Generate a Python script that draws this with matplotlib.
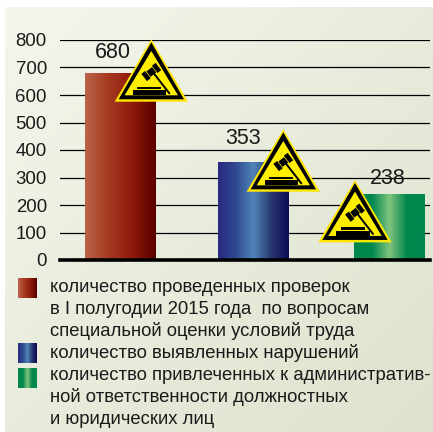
import numpy as np
import matplotlib
matplotlib.use("Agg")
import matplotlib.pyplot as plt
from matplotlib.colors import LinearSegmentedColormap
from matplotlib.patches import Polygon, Rectangle

W, H = 433, 432

values = [680, 353, 238]
bar_centers = [120.5, 253.5, 389.5]
bar_width = 71
y_ticks = [0, 100, 200, 300, 400, 500, 600, 700, 800]

# gradient stops, left to right
red_stops = ["#b9644a", "#a5391f", "#8f1a0c", "#5a0000"]
blue_stops = ["#2a2a82", "#2f4a90", "#4f86b8", "#28386f", "#0c0a55"]
green_stops = ["#00874e", "#00874e", "#80c47e", "#00874e", "#00874e"]
all_stops = [red_stops, blue_stops, green_stops]

legend_lines = [
    "количество проведенных проверок",
    "в I полугодии 2015 года  по вопросам",
    "специальной оценки условий труда",
    "количество выявленных нарушений",
    "количество привлеченных к административ-",
    "ной ответственности должностных",
    "и юридических лиц",
]
legend_swatches = [(18, 278), (18, 343), (18, 368)]

# where things sit in pixels
label_pos = [(113, 53), (243, 138), (388, 178)]
# icon apex relative to top right corner of its bar
icon_offsets = [(-4.7, -33.7), (-5.7, -33.6), (-70, -14.6)]

plt.rcParams["font.family"] = ["Liberation Sans", "DejaVu Sans"]

fig = plt.figure(figsize=(W / 100, H / 100), dpi=100, facecolor="white")


def pixel_axes():
    a = fig.add_axes([0, 0, 1, 1])
    a.patch.set_alpha(0)
    a.axis("off")
    return a


def reset_pixels(a):
    a.set_xlim(0, W)
    a.set_ylim(H, 0)


# page background
bg = pixel_axes()
xx, yy = np.meshgrid(np.linspace(0, 1, 200), np.linspace(0, 1, 200))
page_cmap = LinearSegmentedColormap.from_list("page", ["#f4f6ec", "#e8ecdc", "#dde3cd"])
bg.imshow((xx + yy) / 2, cmap=page_cmap, extent=(5, W, H, 7), aspect="auto", vmin=0, vmax=1)
reset_pixels(bg)

# chart
ax = fig.add_axes([60 / W, 1 - 260 / H, 370 / W, 220 / H])
ax.patch.set_alpha(0)
for s in ax.spines.values():
    s.set_visible(False)
ax.set_xticks([])
ax.set_yticks(y_ticks)
ax.tick_params(axis="y", length=0, pad=9.4, labelsize=13.4, labelcolor="#1a1a1a")
ax.grid(axis="y", color="black", lw=0.9, zorder=0)
ax.set_axisbelow(True)

bars = ax.bar(bar_centers, values, width=bar_width, color="none", zorder=2)
for rect, stops in zip(bars, all_stops):
    cm = LinearSegmentedColormap.from_list("bar", stops)
    x0, w = rect.get_x(), rect.get_width()
    ax.imshow(np.linspace(0, 1, 128)[None, :], cmap=cm, aspect="auto", zorder=2,
              extent=(x0, x0 + w, 0, rect.get_height()))
ax.set_xlim(60, 430)
ax.set_ylim(0, 800)
ax.axhline(0, color="black", lw=2.6, zorder=3, clip_on=False)


def draw_icon(a, ax_x, ax_y):
    # warning triangle with a gavel, apex at ax_x, ax_y
    def tri(top_dy, half, bottom, color, z):
        a.add_patch(Polygon([(ax_x, ax_y + top_dy), (ax_x - half, ax_y + bottom), (ax_x + half, ax_y + bottom)],
                            closed=True, fc=color, ec="none", zorder=z))
    tri(0, 36.7, 62.4, "#ffe600", 5)
    tri(3, 32.7, 60, "black", 6)
    tri(11.7, 26.7, 56, "#ffee00", 7)

    # stand
    a.add_patch(Rectangle((ax_x - 18.6, ax_y + 51), 33.3, 5, fc="black", ec="none", zorder=8))
    a.add_patch(Rectangle((ax_x - 14.3, ax_y + 47.4), 24.3, 2.6, fc="black", ec="none", zorder=8))
    # handle
    a.plot([ax_x + 0.7, ax_x + 18], [ax_y + 31.7, ax_y + 54], color="black", lw=1.4,
           solid_capstyle="round", zorder=8)
    # head, built along its own axis
    u = np.array([0.79, -0.61])
    v = np.array([0.61, 0.79])
    c = np.array([ax_x, ax_y + 32.7])
    for t0, t1, hw in [(-9, -4.3, 4.6), (-3.6, 3.6, 3.4), (4.3, 9, 4.6)]:
        pts = [c + u * t0 - v * hw, c + u * t1 - v * hw, c + u * t1 + v * hw, c + u * t0 + v * hw]
        a.add_patch(Polygon(pts, closed=True, fc="black", ec="none", zorder=8))


# icons, labels and legend sit above the bars
top = pixel_axes()
reset_pixels(top)
for rect, (dx, dy) in zip(bars, icon_offsets):
    px = rect.get_x() + rect.get_width()
    py = 260 - rect.get_height() * 220 / 800
    draw_icon(top, px + dx, py + dy)

for (lx, ly), v in zip(label_pos, values):
    top.text(lx, ly, str(v), ha="center", va="center", fontsize=15.5, color="#1a1a1a", zorder=4)

for i, line in enumerate(legend_lines):
    top.text(50, 287 + i * 22, line, ha="left", va="center", fontsize=13.3, color="#1a1a1a")
for (sx, sy), stops in zip(legend_swatches, all_stops):
    cm = LinearSegmentedColormap.from_list("sw", stops)
    top.imshow(np.linspace(0, 1, 32)[None, :], cmap=cm, extent=(sx, sx + 19, sy + 20, sy), aspect="auto", zorder=3)
reset_pixels(top)

fig.savefig("out.png", dpi=100)
